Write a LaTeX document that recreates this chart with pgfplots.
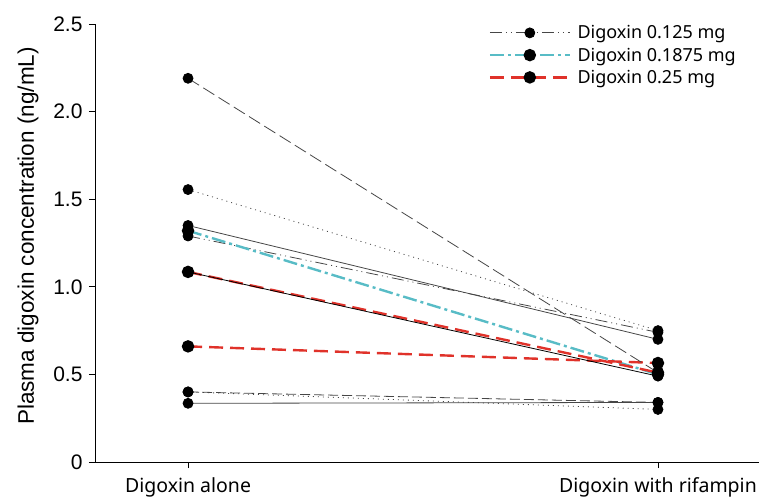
\documentclass[border=0pt]{standalone}
\usepackage{fontspec}
\setmainfont{Liberation Sans}
\newfontfamily\labfont{Noto Sans}
\usepackage{pgfplots}
\pgfplotsset{compat=1.18}
\definecolor{cy}{RGB}{88,188,198}
\definecolor{rd}{RGB}{224,50,42}
\definecolor{ln}{RGB}{70,70,70}
\begin{document}
\begin{tikzpicture}
\begin{axis}[
  scale only axis, width=664bp, height=438bp,
  xmin=-0.198, xmax=1.215, ymin=0, ymax=2.5,
  axis x line*=bottom, axis y line*=left,
  axis line style={-, line width=0.8bp, black},
  xtick={0,1}, xticklabels={Digoxin alone, Digoxin with rifampin},
  ytick={0,0.5,1,1.5,2,2.5}, yticklabels={0,0.5,1.0,1.5,2.0,2.5},
  tick align=outside, major tick length=6bp,
  tick style={black, line width=0.8bp},
  yticklabel style={font=\fontsize{21bp}{25bp}\selectfont, xshift=-3bp},
  xticklabel style={font=\labfont\fontsize{19.5bp}{23bp}\selectfont, yshift=-6.5bp},
  ylabel={Plasma digoxin concentration (ng/mL)},
  ylabel style={font=\fontsize{22.5bp}{26bp}\selectfont, yshift=8bp, xshift=7bp},
  legend cell align=left,
  legend style={draw=none, fill=none, at={(0.588,1.005)}, anchor=north west,
    font=\labfont\fontsize{18bp}{21bp}\selectfont, row sep=4.5bp,
    nodes={inner sep=1.5bp},
    /tikz/every odd column/.append style={column sep=5bp}},
  legend image code/.code={\draw[mark repeat=2,mark phase=2,#1] plot coordinates {(0bp,0bp)(40bp,0bp)(80bp,0bp)};},
  every axis plot/.append style={mark=*, mark size=5bp, mark options={solid, fill=black, draw=black}},
]
% legend series
\addplot[ln, line width=0.8bp, dash pattern=on 12bp off 4bp on 1bp off 4bp on 1bp off 4bp] coordinates {(0,1.29) (1,0.74)};
\addlegendentry{Digoxin 0.125 mg}
\addplot[cy, line width=2.4bp, dash pattern=on 14bp off 4bp on 3bp off 4bp] coordinates {(0,1.32) (1,0.50)};
\addlegendentry{Digoxin 0.1875 mg}
\addplot[rd, line width=2.4bp, dash pattern=on 14bp off 7bp] coordinates {(0,1.085) (1,0.51)};
\addlegendentry{Digoxin 0.25 mg}
\addplot[rd, line width=2.4bp, dash pattern=on 14bp off 7bp, forget plot] coordinates {(0,0.66) (1,0.565)};
% individual thin lines
\addplot[ln, line width=0.8bp, dash pattern=on 13bp off 5bp, forget plot] coordinates {(0,2.19) (1,0.51)};
\addplot[ln, line width=0.8bp, dash pattern=on 1bp off 4bp, forget plot] coordinates {(0,1.555) (1,0.75)};
\addplot[ln, line width=0.8bp, forget plot] coordinates {(0,1.35) (1,0.70)};
\addplot[black, line width=0.8bp, forget plot] coordinates {(0,1.085) (1,0.49)};
\addplot[ln, line width=0.8bp, dash pattern=on 10bp off 4bp, forget plot] coordinates {(0,0.40) (1,0.34)};
\addplot[ln, line width=0.8bp, dash pattern=on 1bp off 4bp, forget plot] coordinates {(0,0.40) (1,0.30)};
\addplot[ln, line width=0.8bp, forget plot] coordinates {(0,0.335) (1,0.34)};
\end{axis}
\pgfresetboundingbox
\path[use as bounding box] ([xshift=-95bp,yshift=-37bp]current axis.south west) rectangle ([xshift=664bp,yshift=462bp]current axis.south west);
\end{tikzpicture}
\end{document}
